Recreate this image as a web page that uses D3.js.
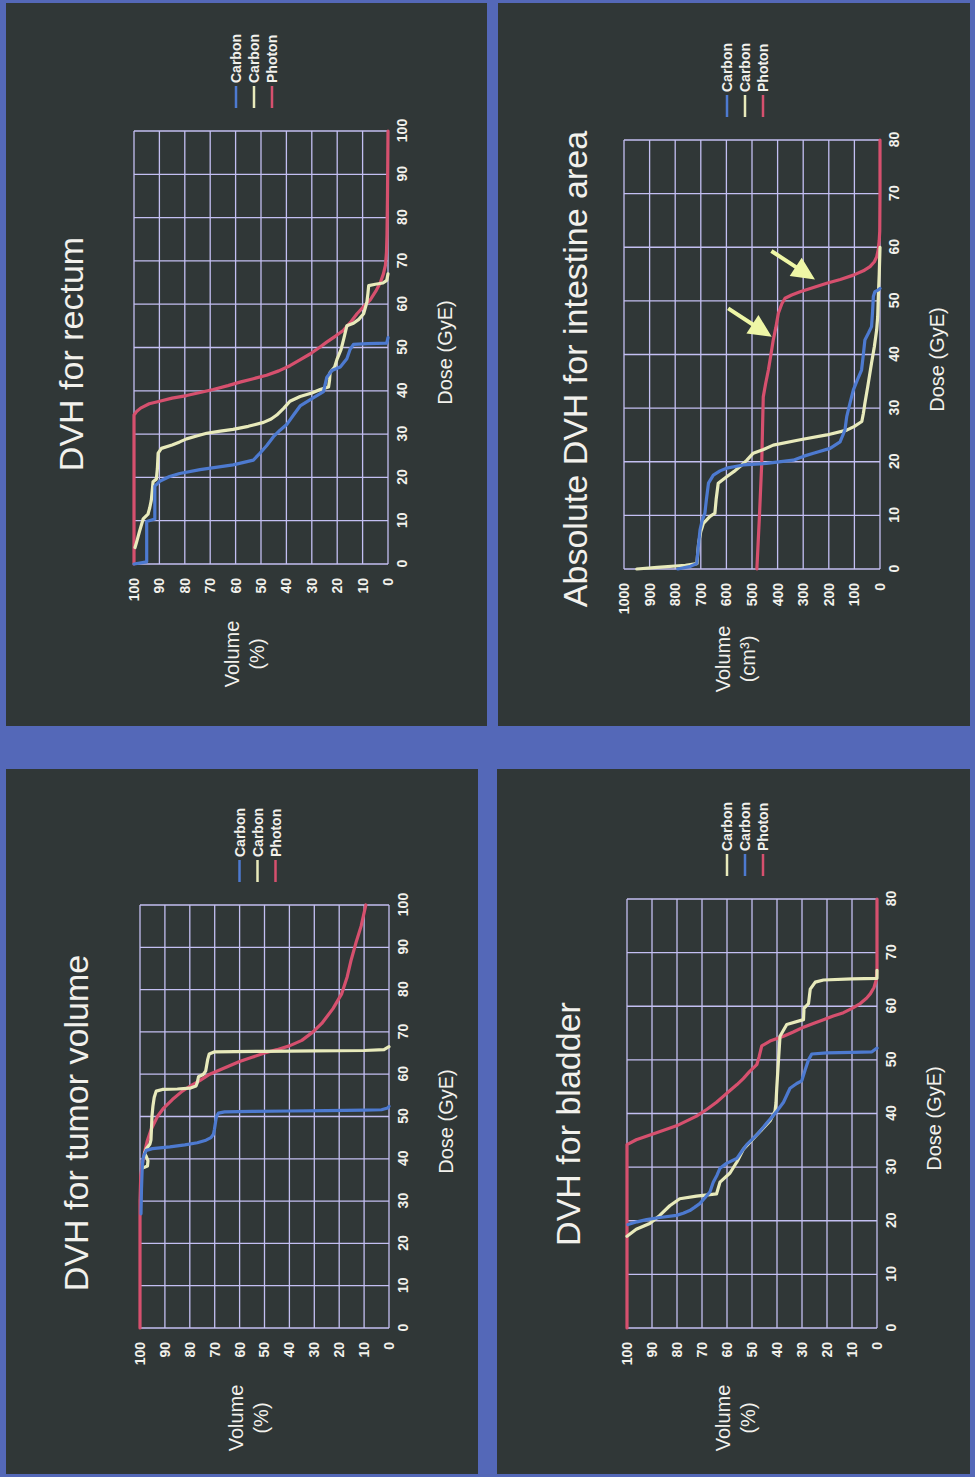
<!DOCTYPE html>
<html>
<head>
<meta charset="utf-8">
<script src="https://cdn.jsdelivr.net/npm/d3@7"></script>
<style>
  html, body { margin: 0; padding: 0; background: #5267bb; }
  svg { display: block; }
</style>
</head>
<body>
<script>
// ---------- tick values ----------
const doseTicks100 = [0, 10, 20, 30, 40, 50, 60, 70, 80, 90, 100];
const doseTicks80 = [0, 10, 20, 30, 40, 50, 60, 70, 80];
const volTicksPct = [0, 10, 20, 30, 40, 50, 60, 70, 80, 90, 100];
const volTicksCm3 = [0, 100, 200, 300, 400, 500, 600, 700, 800, 900, 1000];

// ---------- titles and labels ----------
const titles = ["DVH for tumor volume", "DVH for rectum", "DVH for bladder", "Absolute DVH for intestine area"];
const doseLabel = "Dose (GyE)";
const volLabelPct = ["Volume", "(%)"];
const volLabelCm3 = ["Volume", "(cm³)"];
const legendNames = ["Carbon", "Carbon", "Photon"];

// ---------- DVH curves: [dose (GyE), volume] ----------
const tumorPhoton = [[0,100],[10,100],[20,100],[30,100],[36,99.7],[39,99],[42,98],[44.4,97],[47,95.5],[50,93],[52,90.5],[54,87],[56,83],[57.5,79],[58.5,76],[60,72],[61,68],[62,64],[63,60],[64,55],[65,50],[65.8,45],[66.7,40],[68,35],[70,30.5],[72,27],[75.5,22.5],[79,19],[83,16.8],[87,15.2],[91,13.3],[95,11.2],[100,9.3]];
const tumorCarbonBlue = [[27,99.6],[33,99.4],[38,99.1],[40,98.8],[41,98.3],[42,97.5],[42.4,95],[42.8,88],[43.3,82],[43.8,77],[44.4,73.5],[45,71.5],[45.8,70.5],[47,70.1],[48.5,69.7],[50,69.3],[50.8,68.5],[51.1,66],[51.2,55],[51.3,40],[51.4,25],[51.5,10],[51.6,3],[52,0.5],[52.4,0]];
const tumorCarbonCream = [[37.8,99],[38.3,97],[39.5,96.8],[40.6,97.5],[41.3,98.2],[42.3,97.5],[43.5,96],[44.5,95.6],[47,95.4],[50,95.2],[52.5,94.8],[54.5,94.3],[56,93.5],[56.4,91],[56.5,85],[56.7,80],[57.2,77.5],[58,77],[59.4,76.5],[60,74.5],[60.8,73.6],[62.2,73.2],[63.5,72.8],[64.8,72.2],[65.3,70],[65.4,50],[65.5,30],[65.6,10],[65.8,2],[66.5,0]];

const rectumPhoton = [[0,100],[10,100],[20,100],[30,100],[34.4,100],[35.2,99],[36,97.4],[37,94],[37.6,89.9],[38.3,85],[38.9,79.3],[39.6,74],[40.3,68.8],[41.2,63],[42,58.3],[42.8,53],[43.6,47.8],[44.6,43],[45.8,38.6],[47.2,34.5],[48.5,30.7],[50,27],[51.3,24],[52.7,20.5],[54,17.5],[56,14.5],[57.8,12.2],[59.5,9.5],[61,7],[63,4.8],[65,3],[67,1.8],[69,1],[72,0.6],[76,0.4],[85,0.2],[100,0]];
const rectumCarbonBlue = [[0,100],[0.5,95],[9.8,95],[10.4,91.8],[18,91.8],[19.1,89.9],[20.2,86],[20.9,82],[21.8,74],[22.9,61],[24,53],[25.6,50.4],[27.3,47.8],[29.4,45.1],[30.9,42.5],[32.2,39.9],[34.4,37.2],[36.5,34.6],[38.4,29.3],[39.8,25.4],[43.1,24.1],[44.7,22.1],[45.5,18.8],[47.4,16.2],[49.6,14.9],[50.7,13.6],[50.9,8],[51,0.5],[52.3,0]];
const rectumCarbonCream = [[3.8,99.6],[5,99],[7.6,97.8],[10.4,96.4],[11.5,94.5],[13,93.8],[14.7,93.2],[17,92.8],[19,92.5],[19.6,91.2],[22,90.8],[25.6,90.5],[26.7,89.2],[27.5,85],[28.2,82],[28.9,79.3],[29.6,75],[30.2,71.4],[30.7,66],[31.1,61],[31.8,55],[32.7,49],[33.5,46],[34.4,43.8],[36,41],[37.6,38.6],[38.7,34.6],[39.5,30],[40.3,26.7],[40.9,23.4],[42.5,23],[44.2,22.8],[45.5,21],[47.4,20],[49.5,18.5],[51.8,17.5],[55,16.2],[55.6,13.6],[56.5,11.5],[57.8,9.6],[60.5,8.3],[62.5,7.9],[64.3,7.6],[64.6,5],[64.9,2],[65.5,0.5],[67,0]];

const bladderPhoton = [[0,100],[10,100],[20,100],[30,100],[34.2,100],[35.1,96.3],[36.4,88.2],[37.7,80.2],[39.5,72.2],[40.8,68],[42.1,64.2],[43.2,61.5],[44.3,58.8],[45.4,56],[46.5,53.5],[47.8,51],[49.1,48.1],[50.5,47.2],[52.6,46.1],[53.5,42.8],[54.4,37.4],[55.2,33.5],[56.1,29.4],[56.8,25.5],[57.5,21.4],[58.2,17.5],[58.8,13.4],[59.6,10],[60.5,6.7],[61.5,4.2],[62.3,2.7],[63.5,1.2],[64.9,0.3],[67,0],[80,0]];
const bladderCarbonBlue = [[19.3,99.6],[19.8,96],[20.2,92.2],[20.6,86.9],[21,80.2],[21.4,77.5],[21.9,74.9],[22.5,73],[23.2,70.9],[24.3,68.8],[25.4,66.8],[27.2,65.5],[28.5,64],[29.8,62.8],[30.7,60.2],[31.6,56.1],[33,54],[34.2,52.1],[36,48.1],[38.2,44.1],[40.4,40.1],[42.1,37.4],[44.7,34.8],[45.6,32.1],[46.1,30.1],[48.2,28.7],[50,27.4],[51.1,26.1],[51.3,20],[51.4,10],[51.5,2],[52.2,0]];
const bladderCarbonCream = [[17.1,100],[18.4,96.3],[19.5,90.9],[21,86.9],[22.8,82.9],[24.1,78.9],[24.6,72.2],[25,64.2],[27.2,62.8],[28.9,58.8],[31,56],[33.3,53.5],[36,48.1],[38.6,42.8],[40.4,40.8],[42,40.4],[44.7,40.1],[50,39.4],[54.4,38.8],[56.6,36.1],[57.5,29.4],[59.6,29.2],[60.5,27.4],[63.2,26.7],[64.5,24.7],[64.9,21.4],[65.1,10],[65.2,0],[66.7,0]];

const intestinePhoton = [[0,481],[9.8,471],[19.7,462],[26,459],[32.1,456],[34.5,447],[37.1,436],[40,426],[42.7,417],[45,407],[47.7,397],[49.5,383],[50.5,371],[51.1,345],[51.7,312],[52.5,260],[53.3,208],[54,155],[54.8,104],[55.6,65],[56.4,39],[57.3,22],[58.2,13],[59.5,7],[61.3,3],[63,1],[70,0],[80,0]];
const intestineCarbonBlue = [[0,790],[0.5,740],[1,716],[4,710],[7.3,703],[9,695],[10.4,684],[13,678],[16,670],[17.5,651],[18.3,625],[18.8,599],[19.4,534],[19.7,443],[20.3,339],[21,300],[21.6,260],[22.5,195],[23.7,156],[25.9,137],[28.4,130],[31,117],[33.4,104],[35.3,88],[37.1,72],[40,65],[42.7,59],[44,45],[45.2,33],[48,29],[50.8,26],[51.7,20],[52,8],[52.3,0]];
const intestineCarbonCream = [[0,950],[0.3,870],[0.7,760],[1,715],[3,712],[5,708],[7,700],[8.5,690],[9.8,664],[10.4,645],[13,640],[16,632],[17.2,599],[18.2,570],[19.1,547],[20.3,520],[21.6,495],[22.3,455],[23.1,417],[24.1,312],[25,208],[25.9,130],[26.6,100],[27.5,71],[29,65],[30.9,59],[34,48],[38.4,33],[41.5,22],[44.6,13],[47,9],[50.8,6.5],[55,3],[60,0]];

// arrow tips on the photon intestine curve: [dose, volume]
const intestineArrowTips = [[43.3, 423], [54.0, 254]];

// ---------- styling ----------
const C = {
  frame: "#5468b8",
  panel: "#303737",
  grid: "#c3bff2",
  text: "#f2f1ec",
  blue: "#4d7ad0",
  cream: "#e8eabb",
  red: "#d6506e",
  arrow: "#eef6a6"
};
const FONT = "'Liberation Sans', Arial, Helvetica, sans-serif";

const W = 975, H = 1477;
const svg = d3.select("body").append("svg").attr("width", W).attr("height", H);
svg.append("rect").attr("width", W).attr("height", H).attr("fill", C.frame);

// the slide is laid out landscape (1477 x 975) and turned a quarter turn
const slide = svg.append("g").attr("transform", `translate(0,${H}) rotate(-90)`);

const panels = [
  { title: titles[0], box: [3, 6, 708, 478], plot: [149, 140, 572, 389], titlePos: [354, 88],
    doseMax: 100, doseTicks: doseTicks100, volMax: 100, volTicks: volTicksPct, volLabel: volLabelPct,
    series: [
      { values: tumorPhoton, color: C.red, name: legendNames[2] },
      { values: tumorCarbonCream, color: C.cream, name: legendNames[1] },
      { values: tumorCarbonBlue, color: C.blue, name: legendNames[0] }
    ],
    legendOrder: [2, 1, 0] },
  { title: titles[1], box: [751, 6, 1474, 487], plot: [913, 134, 1346, 388], titlePos: [1123, 83],
    doseMax: 100, doseTicks: doseTicks100, volMax: 100, volTicks: volTicksPct, volLabel: volLabelPct,
    series: [
      { values: rectumPhoton, color: C.red, name: legendNames[2] },
      { values: rectumCarbonCream, color: C.cream, name: legendNames[1] },
      { values: rectumCarbonBlue, color: C.blue, name: legendNames[0] }
    ],
    legendOrder: [2, 1, 0] },
  { title: titles[2], box: [3, 497, 708, 970], plot: [149, 627, 578, 877], titlePos: [353, 580],
    doseMax: 80, doseTicks: doseTicks80, volMax: 100, volTicks: volTicksPct, volLabel: volLabelPct,
    series: [
      { values: bladderPhoton, color: C.red, name: legendNames[2] },
      { values: bladderCarbonCream, color: C.cream, name: legendNames[0] },
      { values: bladderCarbonBlue, color: C.blue, name: legendNames[1] }
    ],
    legendOrder: [1, 2, 0] },
  { title: titles[3], box: [751, 498, 1474, 970], plot: [908, 624, 1337, 880], titlePos: [1108, 587],
    doseMax: 80, doseTicks: doseTicks80, volMax: 1000, volTicks: volTicksCm3, volLabel: volLabelCm3,
    series: [
      { values: intestinePhoton, color: C.red, name: legendNames[2] },
      { values: intestineCarbonCream, color: C.cream, name: legendNames[1] },
      { values: intestineCarbonBlue, color: C.blue, name: legendNames[0] }
    ],
    legendOrder: [2, 1, 0],
    arrows: intestineArrowTips }
];

panels.forEach(p => {
  const [bx0, by0, bx1, by1] = p.box;
  const [x0, y0, x1, y1] = p.plot;
  const g = slide.append("g");

  g.append("rect")
    .attr("x", bx0).attr("y", by0)
    .attr("width", bx1 - bx0).attr("height", by1 - by0)
    .attr("fill", C.panel);

  const x = d3.scaleLinear().domain([0, p.doseMax]).range([x0, x1]);
  const y = d3.scaleLinear().domain([0, p.volMax]).range([y1, y0]);

  // grid
  g.append("g").selectAll("line").data(p.doseTicks).join("line")
    .attr("x1", d => x(d)).attr("x2", d => x(d))
    .attr("y1", y0).attr("y2", y1)
    .attr("stroke", C.grid).attr("stroke-width", 1.3);
  g.append("g").selectAll("line").data(p.volTicks).join("line")
    .attr("x1", x0).attr("x2", x1)
    .attr("y1", d => y(d)).attr("y2", d => y(d))
    .attr("stroke", C.grid).attr("stroke-width", 1.3);

  // dose axis labels
  const xAxis = d3.axisBottom(x).tickValues(p.doseTicks).tickFormat(d3.format("d")).tickSize(0).tickPadding(9);
  const xa = g.append("g").attr("transform", `translate(0,${y1})`).call(xAxis);
  xa.select(".domain").remove();
  xa.selectAll("text").attr("fill", C.text).attr("font-family", FONT)
    .attr("font-size", 14).attr("font-weight", "bold");

  // volume axis labels
  const yAxis = d3.axisLeft(y).tickValues(p.volTicks).tickFormat(d3.format("d")).tickSize(0).tickPadding(14);
  const ya = g.append("g").attr("transform", `translate(${x0},0)`).call(yAxis);
  ya.select(".domain").remove();
  ya.selectAll("text").attr("fill", C.text).attr("font-family", FONT)
    .attr("font-size", 14).attr("font-weight", "bold");

  // curves
  const line = d3.line().x(d => x(d[0])).y(d => y(d[1]));
  p.series.forEach(s => {
    g.append("path").datum(s.values)
      .attr("d", line)
      .attr("fill", "none")
      .attr("stroke", s.color)
      .attr("stroke-width", 3.2)
      .attr("stroke-linejoin", "round")
      .attr("stroke-linecap", "round");
  });

  // title
  g.append("text")
    .attr("x", p.titlePos[0]).attr("y", p.titlePos[1])
    .attr("text-anchor", "middle")
    .attr("font-family", FONT).attr("font-size", 34)
    .attr("fill", C.text)
    .text(p.title);

  // axis titles
  const midY = (y0 + y1) / 2;
  g.append("text")
    .attr("x", (x0 + x1) / 2 - 5).attr("y", y1 + 64)
    .attr("text-anchor", "middle")
    .attr("font-family", FONT).attr("font-size", 20)
    .attr("fill", C.text)
    .text(doseLabel);
  p.volLabel.forEach((t, i) => {
    g.append("text")
      .attr("x", x0 - 90).attr("y", midY - 22 + i * 25)
      .attr("text-anchor", "middle")
      .attr("font-family", FONT).attr("font-size", 20)
      .attr("fill", C.text)
      .text(t);
  });

  // legend
  const rows = [-25, -7, 11];
  p.legendOrder.forEach((si, i) => {
    const s = p.series[si];
    const ry = midY + rows[i];
    g.append("line")
      .attr("x1", x1 + 23).attr("x2", x1 + 45)
      .attr("y1", ry).attr("y2", ry)
      .attr("stroke", s.color).attr("stroke-width", 2.5);
    g.append("text")
      .attr("x", x1 + 48).attr("y", ry + 5)
      .attr("font-family", FONT).attr("font-size", 14).attr("font-weight", "bold")
      .attr("fill", C.text)
      .text(s.name);
  });

  // pointer arrows
  if (p.arrows) {
    const len = 52, headLen = 23, headHalf = 11, shaftHalf = 2;
    const ang = Math.atan2(-43, 28); // direction from tip back to tail
    p.arrows.forEach(tip => {
      const tx = x(tip[0]), ty = y(tip[1]);
      const shape = [
        [0, 0], [headLen, -headHalf], [headLen, -shaftHalf], [len, -shaftHalf],
        [len, shaftHalf], [headLen, shaftHalf], [headLen, headHalf]
      ];
      g.append("path")
        .attr("d", d3.line()(shape) + "Z")
        .attr("transform", `translate(${tx},${ty}) rotate(${ang * 180 / Math.PI})`)
        .attr("fill", C.arrow);
    });
  }
});
</script>
</body>
</html>
